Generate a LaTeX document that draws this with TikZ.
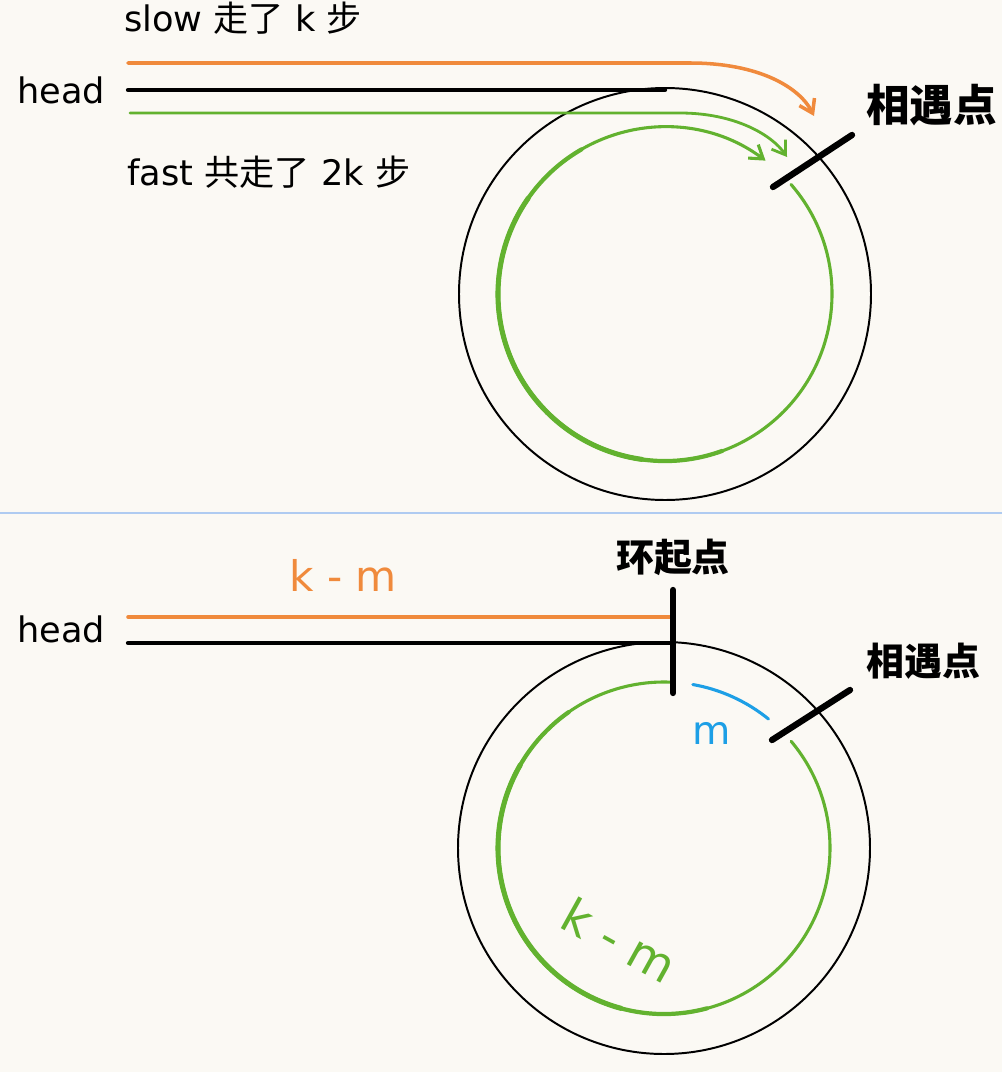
\documentclass[tikz,border=0pt]{standalone}
\usepackage{fontspec}
\setmainfont{DejaVu Sans}
\newfontfamily\cjk{Noto Sans CJK SC}
\usetikzlibrary{positioning,arrows.meta}

\definecolor{paper}{HTML}{FBF9F4}
\definecolor{lborange}{HTML}{F08A3C}
\definecolor{lbgreen}{HTML}{62B22F}
\definecolor{lbblue}{HTML}{1D9FE6}
\definecolor{sepblue}{HTML}{AFCBF1}

\tikzset{
  lbl/.style={inner sep=0pt, font=\fontsize{25}{30}\selectfont},
  biglbl/.style={inner sep=0pt, font=\cjk\bfseries\fontsize{31}{36}\selectfont},
  midlbl/.style={inner sep=0pt, font=\cjk\bfseries\fontsize{27}{32}\selectfont},
  listline/.style={line width=3pt, line cap=round},
  ring/.style={line width=1.4pt},
  tickmark/.style={line width=4.5pt, line cap=round},
  walk/.style={lborange, line width=2.5pt, line cap=round},
  run/.style={lbgreen, line width=2pt, line cap=round},
  barb/.style={-{Straight Barb[length=9pt,width=12pt]}}
}

\begin{document}
\begin{tikzpicture}[x=0.025cm, y=0.025cm]
  \fill [paper] (0,0) rectangle (1002,-1072);
  \useasboundingbox (0,0) rectangle (1002,-1072);

  % upper part
  \coordinate (c1) at (665,-294);
  \coordinate (h1) at (128,-90);
  \coordinate (t1) at (665,-90);
  \coordinate (s1) at (128,-63);
  \coordinate (s2) at (814,-116);
  \coordinate (f1) at (130,-113);
  \coordinate (f2) at (787,-157);
  \coordinate (m1a) at (773,-187);
  \coordinate (m1b) at (852,-135);

  \draw [ring] (c1) circle [radius=206];
  \draw [listline] (h1) -- (t1);
  \draw [walk, barb] (s1) -- (690,-63)
    .. controls (760,-63) and (800,-88) .. (s2);
  \draw [run, barb] (f1) -- (680,-113)
    .. controls (735,-113) and (772,-135) .. (f2);
  \draw [run, line width=2.2pt, barb] ([shift={(41:167)}]c1)
    arc [start angle=41, end angle=-307, radius=167];
  \draw [run, line width=3pt] ([shift={(290:167)}]c1)
    arc [start angle=290, end angle=120, radius=167];
  \draw [run, line width=3.6pt] ([shift={(262:167)}]c1)
    arc [start angle=262, end angle=145, radius=167];
  \draw [tickmark] (m1a) -- (m1b);

  \node [lbl, left=16pt of h1] (head1) {head};
  \node [lbl, anchor=west] (slow) at (124,-18) {slow {\cjk 走了} k {\cjk 步}};
  \node [lbl, anchor=west] (fast) at (127,-172) {fast {\cjk 共走了} 2k {\cjk 步}};
  \node [biglbl, anchor=west] (meet1) at (866,-105) {相遇点};

  \draw [sepblue, line width=2pt] (0,-513) -- (1002,-513);

  % lower part
  \coordinate (c2) at (664,-848);
  \coordinate (h2) at (128,-643);
  \coordinate (t2) at (672,-643);
  \coordinate (k1) at (128,-617);
  \coordinate (k2) at (672,-617);
  \coordinate (e1) at (673,-590);
  \coordinate (e2) at (673,-693);
  \coordinate (m2a) at (772,-740);
  \coordinate (m2b) at (850,-690);

  \draw [ring] (c2) circle [radius=206];
  \draw [listline] (h2) -- (t2);
  \draw [walk] (k1) -- (k2);
  \draw [run, line width=2.2pt] ([shift={(40:166)}]c2)
    arc [start angle=40, end angle=-272, radius=166];
  \draw [run, line width=3pt] ([shift={(285:166)}]c2)
    arc [start angle=285, end angle=125, radius=166];
  \draw [run, line width=3.6pt] ([shift={(255:166)}]c2)
    arc [start angle=255, end angle=150, radius=166];
  \draw [lbblue, line width=2.2pt, line cap=round] ([shift={(80:166)}]c2)
    arc [start angle=80, end angle=51, radius=166];
  \draw [tickmark] (e1) -- (e2);
  \draw [tickmark] (m2a) -- (m2b);

  \node [lbl, left=16pt of h2, yshift=10pt] (head2) {head};
  \node [lbl, lborange, font=\fontsize{30}{34}\selectfont] (km1) at (343,-575) {k - m};
  \node [midlbl, above=10pt of e1] (start) {环起点};
  \node [midlbl, anchor=west] (meet2) at (866,-661) {相遇点};
  \node [lbl, lbblue, font=\fontsize{28}{32}\selectfont] (m) at (712,-733) {m};
  \node [lbl, lbgreen, rotate=-29, font=\fontsize{34}{38}\selectfont] (km2) at (620,-940) {k - m};
\end{tikzpicture}
\end{document}
